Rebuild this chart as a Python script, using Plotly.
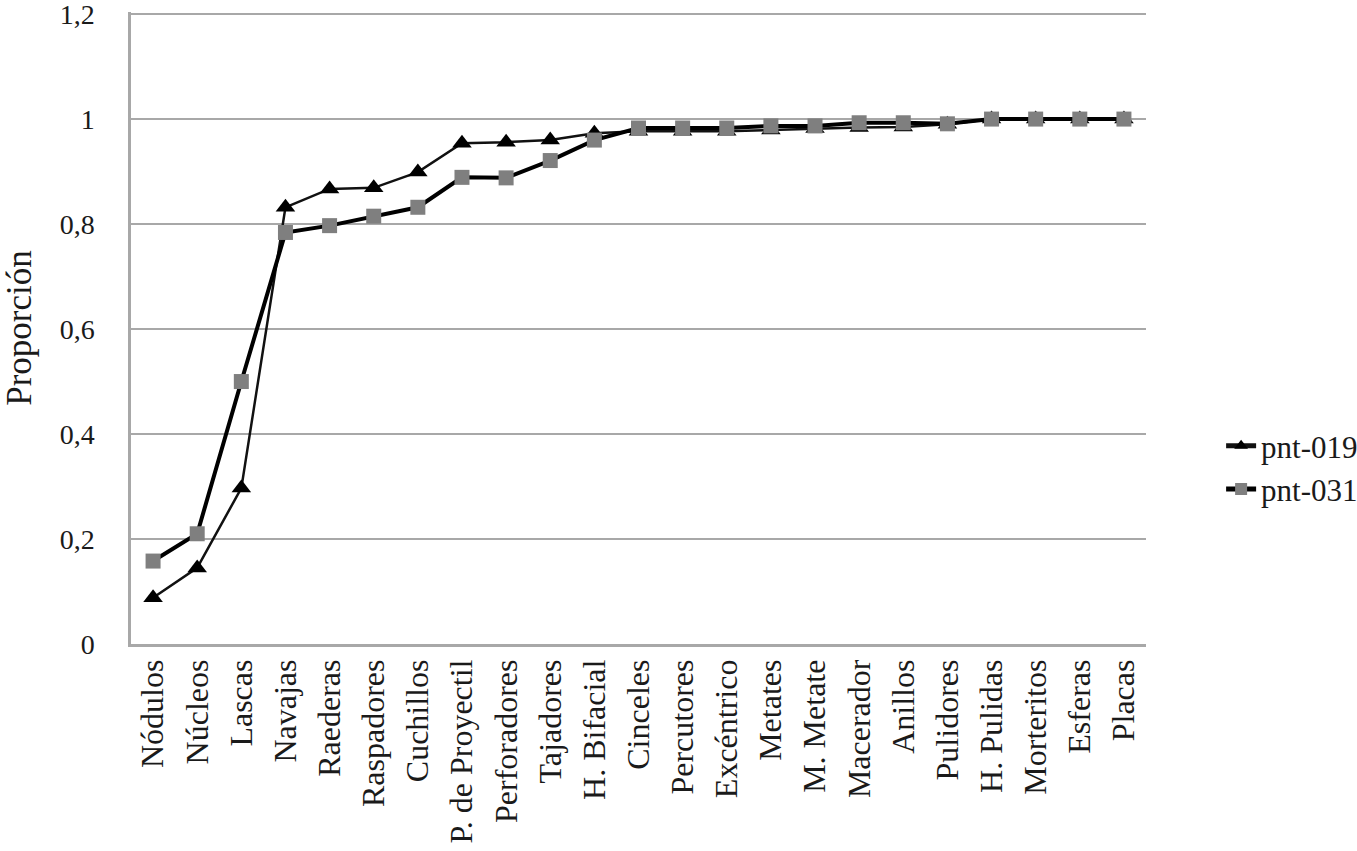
import plotly.graph_objects as go

categories = ["Nódulos", "Núcleos", "Lascas", "Navajas", "Raederas", "Raspadores",
              "Cuchillos", "P. de Proyectil", "Perforadores", "Tajadores", "H. Bifacial",
              "Cinceles", "Percutores", "Excéntrico", "Metates", "M. Metate", "Macerador",
              "Anillos", "Pulidores", "H. Pulidas", "Morteritos", "Esferas", "Placas"]

pnt_019 = [0.088, 0.145, 0.297, 0.832, 0.867, 0.869, 0.899, 0.954, 0.956, 0.960, 0.973,
           0.977, 0.977, 0.977, 0.979, 0.982, 0.984, 0.985, 0.990, 1.0, 1.0, 1.0, 1.0]
pnt_031 = [0.158, 0.210, 0.500, 0.784, 0.797, 0.815, 0.832, 0.889, 0.888, 0.921, 0.960,
           0.983, 0.983, 0.983, 0.987, 0.987, 0.993, 0.993, 0.991, 1.0, 1.0, 1.0, 1.0]

y_ticks = [0, 0.2, 0.4, 0.6, 0.8, 1.0, 1.2]
y_tick_labels = ["0", "0,2", "0,4", "0,6", "0,8", "1", "1,2"]

FONT = "Liberation Serif"
TXT = "#1a1a1a"
GRID = "#a8a8a8"

fig = go.Figure()
fig.add_trace(go.Scatter(
    x=categories, y=pnt_019, name="pnt-019", mode="lines+markers",
    line=dict(color="#111111", width=2.5),
    marker=dict(symbol="triangle-up", size=17, color="#000000"),
))
fig.add_trace(go.Scatter(
    x=categories, y=pnt_031, name="pnt-031", mode="lines+markers",
    line=dict(color="#000000", width=4),
    marker=dict(symbol="square", size=15, color="#7f7f7f"),
))

fig.update_layout(
    width=1357, height=851,
    margin=dict(l=131, r=211, t=12, b=207, autoexpand=False),
    paper_bgcolor="white", plot_bgcolor="white",
    font=dict(family=FONT, size=30, color=TXT),
    showlegend=True,
    legend=dict(x=1.074, y=0.279, xanchor="left", yanchor="middle",
                font=dict(family=FONT, size=31, color=TXT),
                tracegroupgap=12, itemsizing="constant"),
)
fig.update_xaxes(
    type="category", tickangle=-90, showgrid=False,
    showline=True, linecolor=GRID, linewidth=2.5,
    ticks="", tickfont=dict(family=FONT, size=32, color=TXT),
    range=[-0.5, len(categories) - 0.5],
)
fig.update_yaxes(
    range=[0, 1.204], tickvals=y_ticks, ticktext=y_tick_labels,
    showgrid=True, gridcolor=GRID, gridwidth=2,
    showline=True, linecolor=GRID, linewidth=2.5,
    zeroline=False, ticks="", ticklabelstandoff=28, ticklabeloverflow="allow",
    tickfont=dict(family=FONT, size=28, color=TXT),
    title=dict(text="Proporción", font=dict(family=FONT, size=35, color=TXT), standoff=42),
)

fig.write_html("out.html", config={"displayModeBar": False},
               post_script="document.body.style.margin='0';")
